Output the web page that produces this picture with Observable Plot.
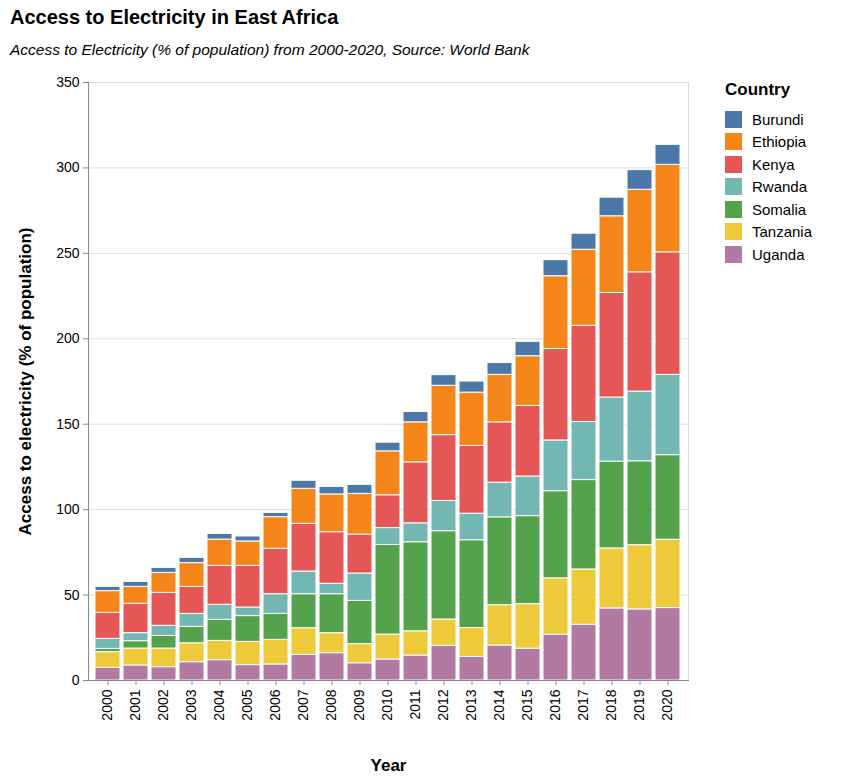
<!DOCTYPE html>
<html>
<head>
<meta charset="utf-8">
<script src="https://cdn.jsdelivr.net/npm/d3@7"></script>
<script src="https://cdn.jsdelivr.net/npm/@observablehq/plot@0.6"></script>
<style>
  body { margin: 0; font-family: "Liberation Sans", Arial, sans-serif; background: #fff; }
  #wrap { position: relative; width: 848px; height: 780px; }
  #title { position: absolute; left: 10px; top: 6px; font-size: 20px; font-weight: bold; color: #000; }
  #subtitle { position: absolute; left: 10px; top: 41px; font-size: 15.5px; font-style: italic; color: #000; }
  #chart { position: absolute; left: 0; top: 64px; }
  #legend { position: absolute; left: 725px; top: 80px; font-size: 15px; color: #000; }
  #legend .head { font-weight: bold; font-size: 17px; margin-bottom: 8px; }
  #legend .item { display: flex; align-items: center; height: 22.5px; }
  #legend .sw { width: 17px; height: 17px; margin-right: 10px; }
  g[aria-label="y-axis label"] text, g[aria-label="x-axis label"] text { font-size: 17px; font-weight: bold; }
</style>
</head>
<body>
<div id="wrap">
  <div id="title">Access to Electricity in East Africa</div>
  <div id="subtitle">Access to Electricity (% of population) from 2000-2020, Source: World Bank</div>
  <div id="chart"></div>
  <div id="legend"></div>
</div>
<script>
const years = d3.range(2000, 2021).map(String);
const countries = ["Burundi", "Ethiopia", "Kenya", "Rwanda", "Somalia", "Tanzania", "Uganda"];
const colors = ["#4c78a8", "#f58518", "#e45756", "#72b7b2", "#54a24b", "#eeca3b", "#b279a2"];

const uganda   = [7.4, 8.8, 7.8, 10.7, 11.9, 9.0, 9.4, 15.0, 16.0, 10.1, 12.3, 14.6, 20.3, 13.8, 20.5, 18.6, 26.8, 32.6, 42.2, 41.6, 42.4];
const tanzania = [9.2, 9.9, 10.9, 11.1, 11.3, 13.6, 14.4, 15.6, 11.7, 11.2, 14.6, 14.2, 15.4, 16.9, 23.6, 26.1, 33.0, 32.4, 35.1, 37.6, 40.0];
const somalia  = [1.9, 4.3, 7.4, 9.6, 12.3, 15.1, 15.2, 19.9, 22.8, 25.3, 52.4, 52.1, 51.7, 51.4, 51.4, 51.5, 51.0, 52.3, 50.8, 49.1, 49.5];
const rwanda   = [5.9, 4.7, 5.9, 7.6, 8.8, 5.0, 11.5, 13.3, 6.1, 16.0, 9.9, 11.1, 17.7, 15.5, 20.3, 23.2, 29.7, 34.0, 37.5, 40.8, 47.0];
const kenya    = [15.2, 17.2, 19.3, 15.8, 22.8, 24.4, 26.6, 27.9, 30.2, 22.8, 19.2, 35.7, 38.5, 39.7, 35.3, 41.3, 53.5, 56.3, 61.2, 69.8, 71.7];
const ethiopia = [12.7, 9.9, 11.7, 13.9, 15.4, 14.3, 18.5, 20.5, 22.1, 23.8, 25.7, 23.4, 28.9, 31.2, 27.8, 29.1, 42.6, 44.5, 44.9, 48.3, 51.2];
const burundi  = [2.5, 2.9, 2.9, 3.1, 3.3, 2.9, 2.5, 4.7, 4.4, 5.3, 5.1, 6.1, 6.2, 6.5, 6.9, 8.4, 9.4, 9.4, 10.9, 11.5, 11.7];

// stacking order, bottom to top
const series = [
  ["Uganda", uganda], ["Tanzania", tanzania], ["Somalia", somalia], ["Rwanda", rwanda],
  ["Kenya", kenya], ["Ethiopia", ethiopia], ["Burundi", burundi]
];
const rows = series.flatMap(([country, vals]) =>
  vals.map((v, i) => ({ year: years[i], country, value: v })));

const plot = Plot.plot({
  width: 700,
  height: 712,
  marginLeft: 88,
  marginRight: 12,
  marginTop: 18,
  marginBottom: 96,
  style: { fontFamily: '"Liberation Sans", Arial, sans-serif', fontSize: 14, color: "#000", background: "#fff" },
  x: { domain: years, padding: 0.1, label: null },
  y: { domain: [0, 350], ticks: d3.range(0, 351, 50), label: null },
  color: { domain: countries, range: colors },
  marks: [
    Plot.gridY(d3.range(50, 351, 50), { stroke: "#ddd", strokeOpacity: 1 }),
    Plot.frame({ anchor: "right", stroke: "#ddd" }),
    Plot.barY(rows, Plot.stackY({ x: "year", y: "value", fill: "country", stroke: "#fff", strokeWidth: 1, order: null })),
    Plot.axisY({ ticks: d3.range(0, 351, 50), tickSize: 5, tickPadding: 4, fontSize: 14, stroke: "#888",
      label: "Access to electricity (% of population)", labelAnchor: "center", labelArrow: "none", labelOffset: 70 }),
    Plot.axisX({ tickRotate: -90, tickSize: 5, fontSize: 14, stroke: "#888",
      label: "Year", labelAnchor: "center", labelArrow: "none", labelOffset: 90 }),
    Plot.frame({ anchor: "left", stroke: "#888" }),
    Plot.frame({ anchor: "bottom", stroke: "#888" })
  ]
});
document.getElementById("chart").append(plot);

const legend = document.getElementById("legend");
legend.innerHTML = `<div class="head">Country</div>` + countries.map((c, i) =>
  `<div class="item"><div class="sw" style="background:${colors[i]}"></div>${c}</div>`).join("");
</script>
</body>
</html>
